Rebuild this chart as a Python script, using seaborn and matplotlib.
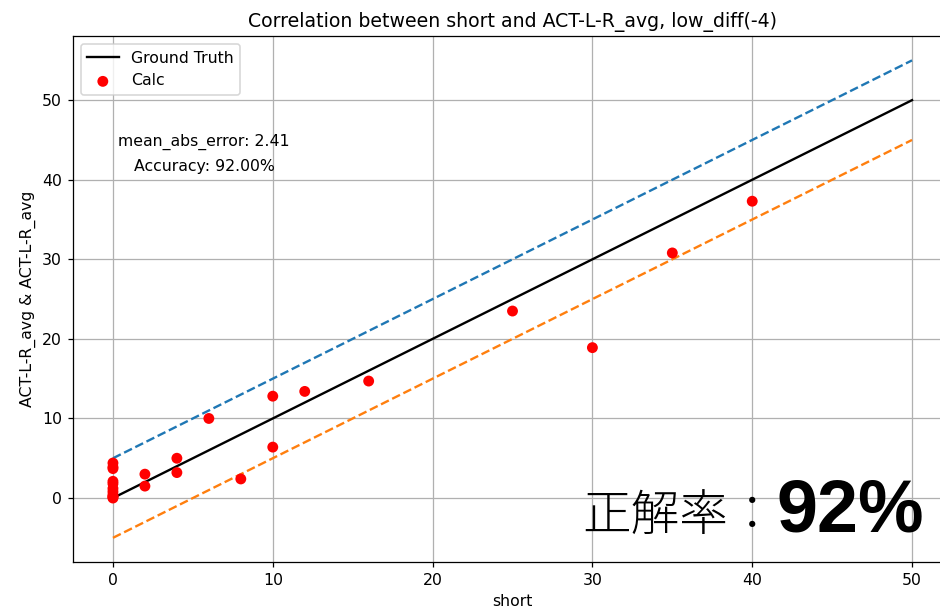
import matplotlib
matplotlib.use("Agg")
import matplotlib.pyplot as plt
from matplotlib import font_manager
import seaborn as sns
import numpy as np
import pandas as pd

# Measured values (short) and calculated averages (ACT-L-R_avg)
short = [0, 0, 0, 0, 0, 0, 0, 0, 0, 0, 0,
         2, 2, 4, 4, 6, 8, 10, 10, 12, 16, 25, 30, 35, 40]
calc = [4.4, 3.9, 3.7, 2.1, 1.8, 1.2, 0.8, 0.4, 0.2, 0.1, 0.0,
        3.0, 1.5, 5.0, 3.2, 10.0, 2.4, 12.8, 6.4, 13.4, 14.7, 23.5, 18.9, 30.8, 37.3]

truth_x = [0, 50]
tolerance = 5

title = "Correlation between short and ACT-L-R_avg, low_diff(-4)"
mae_text = "mean_abs_error: 2.41"
acc_text = "Accuracy: 92.00%"
big_label = "正解率："
big_value = "92%"

plt.rcParams["font.family"] = ["DejaVu Sans"]

# a narrow bold face for the large score if one is available
installed = {f.name for f in font_manager.fontManager.ttflist}
if "Liberation Sans Narrow" in installed:
    score_family, score_size = "Liberation Sans Narrow", 53
elif "DejaVu Sans Condensed" in installed:
    score_family, score_size = "DejaVu Sans Condensed", 50
else:
    score_family, score_size = "Liberation Sans", 47

DPI = 113
W, H = 940, 609
fig = plt.figure(figsize=(W / DPI, H / DPI), dpi=DPI)
# the axes run a little past the right edge of the canvas
ax = fig.add_axes([73 / W, 47.3 / H, 879 / W, 525.2 / H])

truth = pd.DataFrame({"x": truth_x, "y": truth_x})
upper = pd.DataFrame({"x": truth_x, "y": [v + tolerance for v in truth_x]})
lower = pd.DataFrame({"x": truth_x, "y": [v - tolerance for v in truth_x]})
pts = pd.DataFrame({"short": short, "calc": calc})

sns.lineplot(data=truth, x="x", y="y", color="black", label="Ground Truth", ax=ax)
sns.lineplot(data=upper, x="x", y="y", color="C0", linestyle="--", ax=ax)
sns.lineplot(data=lower, x="x", y="y", color="C1", linestyle="--", ax=ax)
sns.scatterplot(data=pts, x="short", y="calc", color="red", s=48,
                edgecolor="none", label="Calc", ax=ax, zorder=3)

ax.set_xlim(-2.5, 52.5)
ax.set_ylim(-8, 58)
ax.grid(True, color="#b0b0b0", linewidth=0.8)
ax.set_axisbelow(True)
ax.set_title(title, fontsize=12)
ax.set_xlabel("short", fontsize=10)
ax.set_ylabel("ACT-L-R_avg & ACT-L-R_avg", fontsize=10)
ax.tick_params(labelsize=10)
ax.legend(loc="upper left", fontsize=10)

ax.text(0.149, 1 - (145.5 - 36.5) / 525.2, mae_text, transform=ax.transAxes,
        ha="center", va="baseline", fontsize=10)
ax.text(0.149, 1 - (171 - 36.5) / 525.2, acc_text, transform=ax.transAxes,
        ha="center", va="baseline", fontsize=10)

fig.text(777 / W, 1 - 531 / H, big_label, ha="right", va="baseline",
         fontsize=31, fontweight="light", family=["Noto Sans CJK JP", "DejaVu Sans"])
fig.text(924 / W, 1 - 532 / H, big_value, ha="right", va="baseline",
         fontsize=score_size, fontweight="bold",
         family=[score_family, "DejaVu Sans"])

fig.savefig("out.png", dpi=DPI)
